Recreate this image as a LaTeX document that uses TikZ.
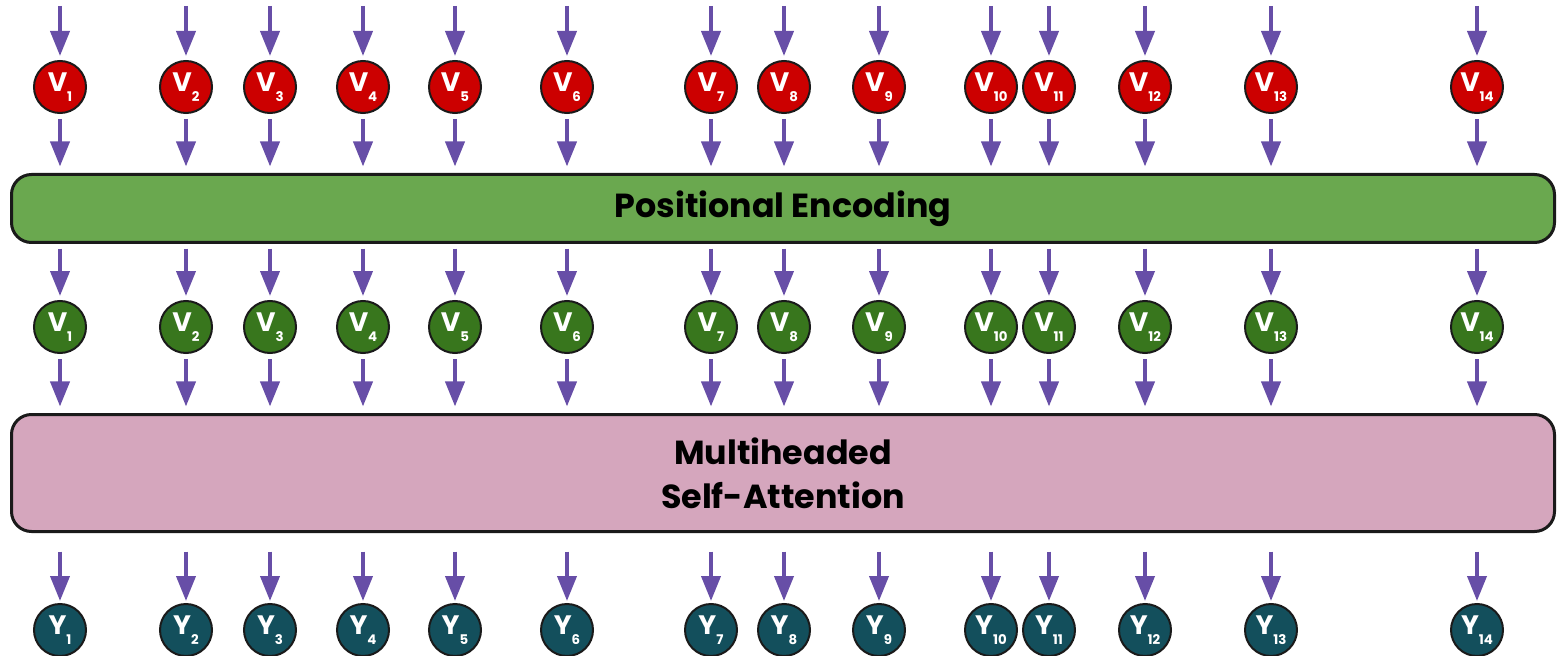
\documentclass[tikz,border=0pt]{standalone}
\usepackage{fontspec}
\newfontfamily\pop{Poppins}
\usetikzlibrary{arrows.meta}

\definecolor{tokred}{HTML}{CC0000}
\definecolor{tokgreen}{HTML}{38761D}
\definecolor{tokteal}{HTML}{134F5C}
\definecolor{flowpurple}{HTML}{674EA7}
\definecolor{pegreen}{HTML}{6AA84F}
\definecolor{attpink}{HTML}{D5A6BD}
\definecolor{edge}{HTML}{1A1A1A}

\tikzset{every picture/.style={line width=0.75pt}}
\tikzset{
  tok/.style={circle, draw=edge, line width=1.5pt, minimum size=39pt, inner sep=0pt,
    text=white, font=\pop\bfseries\fontsize{20}{20}\selectfont},
  flow/.style={draw=flowpurple, line width=3pt, -{Triangle[length=18.75pt,width=14.25pt]}},
  band/.style={draw=edge, line width=2.25pt, rounded corners=15pt, minimum width=1157.25pt,
    align=center, font=\pop\bfseries\fontsize{25}{33}\selectfont},
}
\newcommand{\tokname}[2]{#1\raisebox{-7.5pt}{\fontsize{10}{10}\selectfont #2}}

\begin{document}
\begin{tikzpicture}[x=0.75pt,y=0.75pt,yscale=-1,xscale=1]
	\useasboundingbox (0,0) rectangle (1557,656);
	
	%Shape: Rounded Rectangle
	\node [band, fill=pegreen, minimum height=51pt] (pe) at (783,208.5) {\raisebox{-2pt}{Positional Encoding}};
	%Shape: Rounded Rectangle
	\node [band, fill=attpink, minimum height=87.75pt] (att) at (783,473) {Multiheaded\\Self-Attention};
	
	% one column per token
	\foreach \x [count=\i] in {60,186,270,363,455,567,711,784,879,991,1049,1145,1271,1477} {
		\coordinate (in\i) at (\x,6);
		\node [tok, fill=tokred] (v\i) at (\x,87) {\tokname{V}{\i}};
		\node [tok, fill=tokgreen] (p\i) at (\x,327) {\tokname{V}{\i}};
		\node [tok, fill=tokteal] (y\i) at (\x,630) {\tokname{Y}{\i}};
		
		\draw [flow, shorten >=3pt] (in\i) -- (v\i);
		\draw [flow, shorten <=3.75pt, shorten >=4.9pt] (v\i) -- (v\i |- pe.north);
		\draw [flow, shorten <=3.4pt, shorten >=3pt] (p\i |- pe.south) -- (p\i);
		\draw [flow, shorten <=3.75pt, shorten >=4.9pt] (p\i) -- (p\i |- att.north);
		\draw [flow, shorten <=13.9pt, shorten >=1.5pt] (y\i |- att.south) -- (y\i);
	}
	
\end{tikzpicture}
\end{document}
